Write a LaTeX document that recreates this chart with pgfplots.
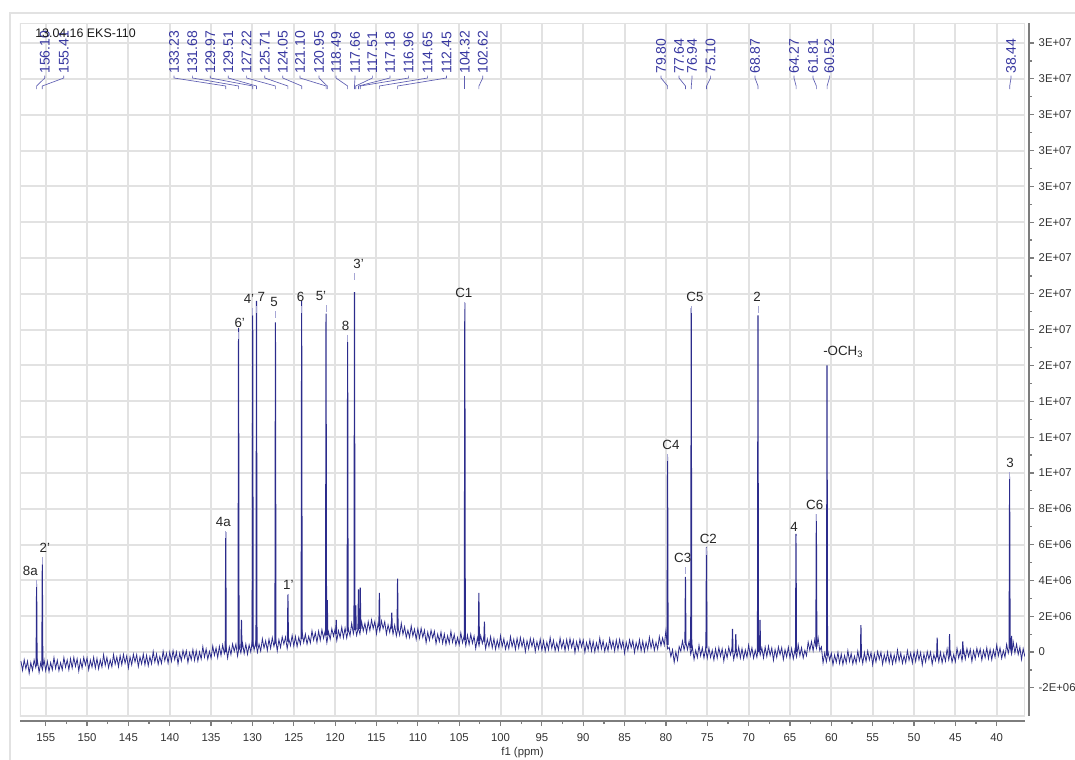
\documentclass[border=0pt]{standalone}
\usepackage{fontspec}
\setmainfont{Liberation Sans}
\usepackage{pgfplots}
\usepackage{pgfplotstable}
\pgfplotsset{compat=1.18}
\definecolor{spec}{RGB}{44,44,140}
\definecolor{lbl}{RGB}{55,55,160}
\definecolor{conn}{RGB}{95,95,178}
\definecolor{gridc}{RGB}{226,226,226}
\definecolor{axc}{RGB}{125,125,125}

% baseline (noise band), y in units of 1E+06
\pgfplotstableread{
x y
158.0 -0.50
157.8 -1.02
157.6 -0.43
157.4 -0.93
157.2 -0.51
157.0 -1.19
156.8 -0.59
156.6 -1.02
156.4 -0.44
156.2 -0.86
156.0 -0.47
155.8 -1.14
155.6 -0.59
155.4 -0.99
155.2 -0.43
155.0 -1.04
154.8 -0.52
154.6 -1.09
154.4 -0.59
154.2 -0.99
154.0 -0.31
153.8 -0.91
153.6 -0.46
153.4 -1.04
153.2 -0.60
153.0 -0.99
152.8 -0.31
152.6 -0.85
152.4 -0.44
152.2 -0.99
152.0 -0.37
151.8 -0.89
151.6 -0.30
151.4 -0.80
151.2 -0.38
151.0 -1.06
150.8 -0.45
150.6 -0.89
150.4 -0.30
150.2 -0.73
150.0 -0.33
149.8 -0.99
149.6 -0.45
149.4 -0.84
149.2 -0.29
149.0 -0.89
148.8 -0.36
148.6 -0.94
148.4 -0.43
148.2 -0.84
148.0 -0.15
147.8 -0.74
147.6 -0.30
147.4 -0.87
147.2 -0.44
147.0 -0.82
146.8 -0.14
146.6 -0.68
146.4 -0.27
146.2 -0.82
146.0 -0.20
145.8 -0.71
145.6 -0.13
145.4 -0.62
145.2 -0.21
145.0 -0.88
144.8 -0.27
144.6 -0.71
144.4 -0.12
144.2 -0.55
144.0 -0.15
143.8 -0.81
143.6 -0.27
143.4 -0.66
143.2 -0.11
143.0 -0.71
142.8 -0.18
142.6 -0.76
142.4 -0.25
142.2 -0.66
142.0 0.03
141.8 -0.56
141.6 -0.11
141.4 -0.69
141.2 -0.25
141.0 -0.63
140.8 0.05
140.6 -0.48
140.4 -0.08
140.2 -0.62
140.0 0.00
139.8 -0.51
139.6 0.08
139.4 -0.42
139.2 0.00
139.0 -0.67
138.8 -0.06
138.6 -0.49
138.4 0.09
138.2 -0.33
138.0 0.07
137.8 -0.59
137.6 -0.04
137.4 -0.43
137.2 0.14
137.0 -0.46
136.8 0.07
136.6 -0.50
136.4 0.01
136.2 -0.39
136.0 0.30
135.8 -0.29
135.6 0.17
135.4 -0.40
135.2 0.04
135.0 -0.34
134.8 0.34
134.6 -0.18
134.4 0.23
134.2 -0.31
134.0 0.32
133.8 -0.19
133.6 0.40
133.4 -0.08
133.2 0.34
133.0 -0.33
132.8 0.29
132.6 -0.14
132.4 0.45
132.2 0.04
132.0 0.44
131.8 -0.22
131.6 0.34
131.4 -0.05
131.2 0.51
131.0 -0.08
130.8 0.45
130.6 -0.12
130.4 0.40
130.2 0.00
130.0 0.69
129.8 0.11
129.6 0.56
129.4 -0.01
129.2 0.44
129.0 0.06
128.8 0.74
128.6 0.22
128.4 0.63
128.2 0.09
128.0 0.72
127.8 0.21
127.6 0.80
127.4 0.32
127.2 0.74
127.0 0.07
126.8 0.69
126.6 0.26
126.4 0.85
126.2 0.44
126.0 0.84
125.8 0.19
125.6 0.74
125.4 0.36
125.2 0.93
125.0 0.33
124.8 0.87
124.6 0.31
124.4 0.82
124.2 0.43
124.0 1.13
123.8 0.54
123.6 1.00
123.4 0.44
123.2 0.88
123.0 0.51
122.8 1.19
122.6 0.67
122.4 1.08
122.2 0.54
122.0 1.17
121.8 0.66
121.6 1.25
121.4 0.77
121.2 1.19
121.0 0.52
120.8 1.14
120.6 0.71
120.4 1.30
120.2 0.89
120.0 1.29
119.8 0.64
119.6 1.20
119.4 0.82
119.2 1.39
119.0 0.80
118.8 1.34
118.6 0.78
118.4 1.30
118.2 0.91
118.0 1.61
117.8 1.03
117.6 1.49
117.4 0.93
117.2 1.38
117.0 1.01
116.8 1.70
116.6 1.18
116.4 1.60
116.2 1.07
116.0 1.70
115.8 1.20
115.6 1.80
115.4 1.31
115.2 1.71
115.0 1.02
114.8 1.62
114.6 1.17
114.4 1.74
114.2 1.31
114.0 1.69
113.8 1.00
113.6 1.52
113.4 1.10
113.2 1.63
113.0 1.00
112.8 1.50
112.6 0.90
112.4 1.38
112.2 0.95
112.0 1.61
111.8 0.99
111.6 1.41
111.4 0.81
111.2 1.22
111.0 0.81
110.8 1.46
110.6 0.90
110.4 1.28
110.2 0.71
110.0 1.30
109.8 0.77
109.6 1.33
109.4 0.82
109.2 1.22
109.0 0.52
108.8 1.11
108.6 0.66
108.4 1.22
108.2 0.78
108.0 1.16
107.8 0.47
107.6 1.00
107.4 0.59
107.2 1.12
107.0 0.50
106.8 1.01
106.6 0.42
106.4 0.91
106.2 0.49
106.0 1.16
105.8 0.55
105.6 0.98
105.4 0.39
105.2 0.81
105.0 0.41
104.8 1.07
104.6 0.52
104.4 0.91
104.2 0.35
104.0 0.95
103.8 0.42
103.6 1.00
103.4 0.49
103.2 0.89
103.0 0.20
102.8 0.80
102.6 0.35
102.4 0.92
102.2 0.48
102.0 0.87
101.8 0.19
101.6 0.72
101.4 0.31
101.2 0.86
101.0 0.24
100.8 0.75
100.6 0.16
100.4 0.66
100.2 0.24
100.0 0.91
99.8 0.31
99.6 0.74
99.4 0.16
99.2 0.58
99.0 0.19
98.8 0.86
98.6 0.31
98.4 0.71
98.2 0.15
98.0 0.76
97.8 0.24
97.6 0.81
97.4 0.31
97.2 0.71
97.0 0.03
96.8 0.63
96.6 0.18
96.4 0.76
96.2 0.32
96.0 0.71
95.8 0.04
95.6 0.58
95.4 0.17
95.2 0.72
95.0 0.11
94.8 0.63
94.6 0.05
94.4 0.55
94.2 0.13
94.0 0.81
93.8 0.21
93.6 0.65
93.4 0.07
93.2 0.50
93.0 0.11
92.8 0.78
92.6 0.23
92.4 0.63
92.2 0.08
92.0 0.69
91.8 0.17
91.6 0.75
91.4 0.25
91.2 0.66
91.0 -0.03
90.8 0.57
90.6 0.13
90.4 0.71
90.2 0.28
90.0 0.67
89.8 -0.01
89.6 0.53
89.4 0.13
89.2 0.68
89.0 0.07
88.8 0.59
88.6 0.01
88.4 0.51
88.2 0.10
88.0 0.78
87.8 0.18
87.6 0.62
87.4 0.04
87.2 0.47
87.0 0.08
86.8 0.75
86.6 0.21
86.4 0.61
86.2 0.06
86.0 0.67
85.8 0.13
85.6 0.71
85.4 0.21
85.2 0.62
85.0 -0.06
84.8 0.54
84.6 0.10
84.4 0.68
84.2 0.25
84.0 0.64
83.8 -0.02
83.6 0.52
83.4 0.13
83.2 0.69
83.0 0.08
82.8 0.61
82.6 0.03
82.4 0.54
82.2 0.14
82.0 0.82
81.8 0.23
81.6 0.67
81.4 0.10
81.2 0.54
81.0 0.16
80.8 0.86
80.6 0.36
80.4 0.79
80.2 0.39
80.0 1.20
79.8 0.18
79.6 0.26
79.4 -0.26
79.2 0.13
79.0 -0.57
78.8 0.01
78.6 -0.45
78.4 0.31
78.2 0.05
78.0 0.62
77.8 0.12
77.6 0.59
77.4 0.13
77.2 0.61
77.0 -0.12
76.8 0.29
76.6 -0.41
76.4 0.10
76.2 -0.30
76.0 0.38
75.8 -0.21
75.6 0.24
75.4 -0.33
75.2 0.20
75.0 -0.34
74.8 0.23
74.6 -0.30
74.4 0.10
74.2 -0.44
74.0 0.18
73.8 -0.34
73.6 0.25
73.4 -0.24
73.2 0.18
73.0 -0.50
72.8 0.11
72.6 -0.32
72.4 0.27
72.2 -0.16
72.0 0.24
71.8 -0.42
71.6 0.12
71.4 -0.28
71.2 0.28
71.0 -0.33
70.8 0.19
70.6 -0.38
70.4 0.12
70.2 -0.29
70.0 0.39
69.8 -0.20
69.6 0.24
69.4 -0.34
69.2 0.10
69.0 -0.29
68.8 0.38
68.6 -0.16
68.4 0.23
68.2 -0.33
68.0 0.28
67.8 -0.25
67.6 0.33
67.4 -0.18
67.2 0.23
67.0 -0.46
66.8 0.14
66.6 -0.30
66.4 0.29
66.2 -0.14
66.0 0.25
65.8 -0.42
65.6 0.13
65.4 -0.27
65.2 0.28
65.0 -0.32
64.8 0.20
64.6 -0.38
64.4 0.12
64.2 -0.28
64.0 0.40
63.8 -0.20
63.6 0.25
63.4 -0.33
63.2 0.10
63.0 -0.20
62.8 0.56
62.6 0.10
62.4 0.59
62.2 0.07
62.0 0.70
61.8 0.21
61.6 0.81
61.4 0.09
61.2 0.29
61.0 -0.61
60.8 -0.05
60.6 -0.54
60.4 0.00
60.2 -0.45
60.0 -0.06
59.8 -0.71
59.6 -0.17
59.4 -0.57
59.2 -0.02
59.0 -0.63
58.8 -0.11
58.6 -0.69
58.4 -0.19
58.2 -0.60
58.0 0.08
57.8 -0.52
57.6 -0.08
57.4 -0.66
57.2 -0.23
57.0 -0.62
56.8 0.05
56.6 -0.49
56.4 -0.09
56.2 -0.64
56.0 -0.03
55.8 -0.52
55.6 0.06
55.4 -0.44
55.2 -0.03
55.0 -0.71
54.8 -0.11
54.6 -0.55
54.4 0.03
54.2 -0.40
54.0 -0.01
53.8 -0.68
53.6 -0.14
53.4 -0.54
53.2 0.01
53.0 -0.60
52.8 -0.08
52.6 -0.66
52.4 -0.16
52.2 -0.57
52.0 0.11
51.8 -0.49
51.6 -0.05
51.4 -0.63
51.2 -0.20
51.0 -0.59
50.8 0.08
50.6 -0.46
50.4 -0.06
50.2 -0.61
50.0 0.00
49.8 -0.52
49.6 0.06
49.4 -0.44
49.2 -0.03
49.0 -0.71
48.8 -0.11
48.6 -0.55
48.4 0.03
48.2 -0.40
48.0 -0.01
47.8 -0.68
47.6 -0.14
47.4 -0.48
47.2 0.07
47.0 -0.54
46.8 -0.02
46.6 -0.60
46.4 -0.10
46.2 -0.51
46.0 0.17
45.8 -0.43
45.6 0.01
45.4 -0.57
45.2 -0.14
45.0 -0.53
44.8 0.21
44.6 -0.33
44.4 0.07
44.2 -0.48
44.0 0.13
43.8 -0.39
43.6 0.19
43.4 -0.26
43.2 0.15
43.0 -0.53
42.8 0.07
42.6 -0.37
42.4 0.21
42.2 -0.22
42.0 0.17
41.8 -0.45
41.6 0.09
41.4 -0.31
41.2 0.24
41.0 -0.37
40.8 0.15
40.6 -0.43
40.4 0.12
40.2 -0.29
40.0 0.39
39.8 -0.21
39.6 0.23
39.4 -0.35
39.2 0.08
39.0 -0.29
38.8 0.43
38.6 -0.06
38.4 0.39
38.2 -0.11
38.0 0.55
37.8 -0.05
37.6 0.44
37.4 -0.14
37.2 0.27
37.0 -0.41
36.8 0.19
36.6 -0.25
}\specbase

% peaks: foot, top, foot, break
\pgfplotstableread{
x y
156.16 -0.76
156.10 3.8
156.04 -0.76
156.10 nan
155.47 -0.75
155.41 4.9
155.35 -0.75
155.41 nan
133.29 0.0
133.23 6.7
133.17 0.0
133.23 nan
131.74 0.15
131.68 18.1
131.62 0.15
131.68 nan
131.39 0.2
131.33 1.8
131.27 0.2
131.33 nan
130.03 0.3
129.97 18.8
129.91 0.3
129.97 nan
129.57 0.3
129.51 19.6
129.45 0.3
129.51 nan
127.28 0.47
127.22 18.4
127.16 0.47
127.22 nan
125.77 0.58
125.71 3.2
125.65 0.58
125.71 nan
124.11 0.72
124.05 19.6
123.99 0.72
124.05 nan
121.16 0.93
121.10 18.9
121.04 0.93
121.10 nan
121.01 0.94
120.95 2.9
120.89 0.94
120.95 nan
119.93 1.0
119.87 1.8
119.81 1.0
119.87 nan
118.55 1.15
118.49 17.3
118.43 1.15
118.49 nan
117.72 1.24
117.66 20.1
117.60 1.24
117.66 nan
117.57 1.26
117.51 2.6
117.45 1.26
117.51 nan
117.24 1.28
117.18 3.5
117.12 1.28
117.18 nan
117.02 1.30
116.96 3.6
116.90 1.30
116.96 nan
114.71 1.43
114.65 3.3
114.59 1.43
114.65 nan
113.21 1.31
113.15 2.2
113.09 1.31
113.15 nan
112.51 1.25
112.45 4.1
112.39 1.25
112.45 nan
104.38 0.67
104.32 19.5
104.26 0.67
104.32 nan
102.68 0.61
102.62 3.3
102.56 0.61
102.62 nan
102.01 0.58
101.95 1.7
101.89 0.58
101.95 nan
79.86 0.4
79.80 10.9
79.74 0.4
79.80 nan
77.70 0.5
77.64 4.2
77.58 0.5
77.64 nan
77.00 0.2
76.94 19.2
76.88 0.2
76.94 nan
75.16 0.2
75.10 5.85
75.04 0.2
75.10 nan
72.01 0.0
71.95 1.3
71.89 0.0
71.95 nan
71.61 0.0
71.55 1.0
71.49 0.0
71.55 nan
68.93 0.0
68.87 18.8
68.81 0.0
68.87 nan
68.68 0.1
68.62 1.8
68.56 0.1
68.62 nan
64.33 0.0
64.27 6.6
64.21 0.0
64.27 nan
61.87 0.3
61.81 7.7
61.75 0.3
61.81 nan
60.58 -0.2
60.52 16.0
60.46 -0.2
60.52 nan
56.48 -0.3
56.42 1.5
56.36 -0.3
56.42 nan
47.26 -0.3
47.20 0.8
47.14 -0.3
47.20 nan
45.76 -0.2
45.70 1.0
45.64 -0.2
45.70 nan
44.16 -0.1
44.10 0.6
44.04 -0.1
44.10 nan
38.50 0.2
38.44 9.8
38.38 0.2
38.44 nan
38.26 0.1
38.20 0.9
38.14 0.1
}\specpeaks

% rotated peak list label: label x, peak x, text
\newcommand\pl[3]{%
  \draw[conn,line width=0.5pt] (#1,75.5)--(#1,78)--(#2,86)--(#2,89);
  \node[rotate=90,anchor=west,inner sep=0pt,text=lbl,font=\fontsize{10.5}{12}\selectfont] at (#1,74) {#3};}
% assignment label: x, y, text, peak x
\newcommand\an[4]{%
  \node[text=black!85,inner sep=0pt,font=\fontsize{10}{12}\selectfont] at (#1,#2) {#3};
  \draw[conn!55,line width=0.6pt] (#4,#2+9)--(#4,#2+16);}

\begin{document}
\begin{tikzpicture}
\begin{scope}[x=0.75pt,y=-0.75pt]
  \draw[gridc,line width=1.2pt] (10,760)--(10,13)--(1075,13);
\end{scope}
\begin{axis}[
  at={(15pt,-537pt)}, anchor=south west,
  scale only axis, width=753.75pt, height=519.75pt,
  x dir=reverse, xmin=36.58, xmax=158.11, ymin=-3.57, ymax=35.12,
  axis x line*=bottom, axis y line*=right,
  axis x line shift=3.75pt, axis y line shift=3pt,
  axis line style={draw=axc,line width=0.9pt},
  xtick={40,45,...,155}, ytick={-2,0,...,34},
  yticklabels={-2E+06,0,2E+06,4E+06,6E+06,8E+06,1E+07,1E+07,1E+07,2E+07,2E+07,2E+07,2E+07,2E+07,3E+07,3E+07,3E+07,3E+07,3E+07},
  minor x tick num=1, minor y tick num=1,
  tick align=outside, major tick length=3.75pt, minor tick length=2.25pt,
  tick style={draw=axc,line width=0.9pt},
  grid=major, major grid style={draw=gridc,line width=1.5pt},
  /pgf/number format/assume math mode=true,
  tick label style={font=\fontsize{8.5}{10}\selectfont,text=black!80},
  xticklabel style={yshift=-2.5pt},
  xlabel={f1 (ppm)},
  xlabel style={font=\fontsize{8.5}{10}\selectfont,text=black!80,yshift=3pt},
]
\draw[gridc,line width=1.5pt] (rel axis cs:0,0) rectangle (rel axis cs:1,1);
\addplot[spec,line width=0.6pt] table {\specbase};
\addplot[spec,line width=0.8pt,unbounded coords=jump] table {\specpeaks};
\end{axis}
\begin{scope}[x=0.75pt,y=-0.75pt]
  \pl{44.8}{36.6}{156.10}
  \pl{63.8}{42.3}{155.41}
  \node[anchor=west,inner sep=0pt,text=black!90,font=\fontsize{9.3}{11}\selectfont] at (35,33) {13.04.16 EKS-110};
  \pl{174}{225.7}{133.23}
  \pl{192.4}{238.6}{131.68}
  \pl{210.3}{252.7}{129.97}
  \pl{228.3}{256.5}{129.51}
  \pl{246.6}{275.4}{127.22}
  \pl{264.8}{287.9}{125.71}
  \pl{282.8}{301.7}{124.05}
  \pl{300}{326.1}{121.10}
  \pl{319}{327.3}{120.95}
  \pl{336}{347.6}{118.49}
  \pl{355}{354.5}{117.66}
  \pl{372.4}{355.7}{117.51}
  \pl{390}{358.5}{117.18}
  \pl{408.6}{360.3}{116.96}
  \pl{427.6}{379.4}{114.65}
  \pl{446.5}{397.6}{112.45}
  \pl{464.8}{464.8}{104.32}
  \pl{482.8}{478.9}{102.62}
  \pl{661}{667.6}{79.80}
  \pl{679}{685.5}{77.64}
  \pl{692}{691.3}{76.94}
  \pl{710.6}{706.5}{75.10}
  \pl{755}{758.0}{68.87}
  \pl{794}{796.1}{64.27}
  \pl{813}{816.4}{61.81}
  \pl{829.4}{827.1}{60.52}
  \pl{1011}{1009.7}{38.44}
  \an{30.3}{571}{8a}{36.6}
  \an{44.8}{548}{2'}{42.3}
  \an{223.4}{522}{4a}{225.7}
  \an{239.7}{323}{6'}{238.6}
  \an{249}{298.6}{4'}{252.7}
  \an{261.4}{297}{7}{256.5}
  \an{274}{302}{5}{275.4}
  \an{288.3}{584.5}{1'}{287.9}
  \an{300.7}{297}{6}{301.7}
  \an{321}{296}{5'}{326.1}
  \an{345.5}{325.5}{8}{347.6}
  \an{358.6}{264}{3'}{354.5}
  \an{463.8}{293.4}{C1}{464.8}
  \an{671}{445}{C4}{667.6}
  \an{682.7}{558}{C3}{685.5}
  \an{695}{297}{C5}{691.3}
  \an{708.3}{539}{C2}{706.5}
  \an{757}{297}{2}{758.0}
  \an{794}{526.6}{4}{796.1}
  \an{814.7}{505}{C6}{816.4}
  \node[anchor=west,inner sep=0pt,text=black!85,font=\fontsize{10}{12}\selectfont] at (823,352) {-OCH\textsubscript{3}};
  \an{1010}{463}{3}{1009.7}
\end{scope}
\pgfresetboundingbox
\path[use as bounding box] (0pt,0pt) rectangle (806.25pt,-570pt);
\end{tikzpicture}
\end{document}
